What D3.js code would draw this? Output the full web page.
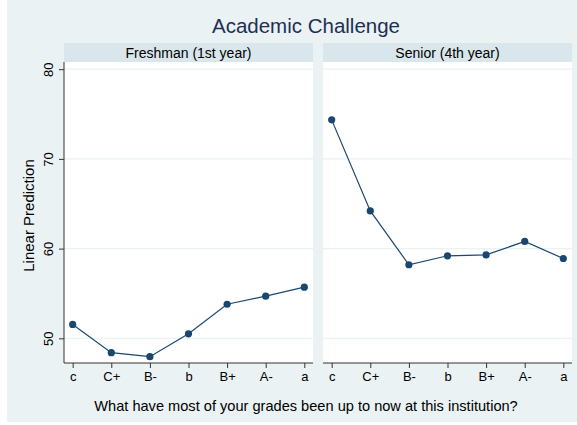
<!DOCTYPE html>
<html>
<head>
<meta charset="utf-8">
<script src="https://cdn.jsdelivr.net/npm/d3@7"></script>
<style>
  body { margin: 0; background: #fff; }
  svg { display: block; font-family: "Liberation Sans", Arial, Helvetica, sans-serif; }
</style>
</head>
<body>
<svg width="577" height="425"></svg>
<script>
const grades = ['c', 'C+', 'B-', 'b', 'B+', 'A-', 'a'];
const panels = ['Freshman (1st year)', 'Senior (4th year)'];
const freshman = [51.55, 48.4, 47.95, 50.5, 53.8, 54.7, 55.7];
const senior = [74.35, 64.2, 58.2, 59.2, 59.3, 60.8, 58.9];
const yTicks = [50, 60, 70, 80];

const series = [freshman, senior];
const navy = '#1a476f';

const svg = d3.select('svg');

// graph region
svg.append('rect')
  .attr('x', 7).attr('y', 0)
  .attr('width', 570).attr('height', 422)
  .attr('fill', '#eaf2f3');

const plotTop = 62, plotBottom = 363;
const panelX = [[64, 313], [323, 572]];

const y = d3.scaleLinear()
  .domain([47.25, 80.8])
  .range([plotBottom, plotTop]);

svg.append('text')
  .attr('x', 306).attr('y', 33)
  .attr('text-anchor', 'middle')
  .attr('font-size', 20.5)
  .attr('fill', '#1e2f55')
  .text('Academic Challenge');

panels.forEach((name, i) => {
  const [x0, x1] = panelX[i];
  const x = d3.scalePoint()
    .domain(grades)
    .range([x0, x1])
    .padding(0.225);

  const g = svg.append('g').attr('class', 'panel');

  // strip
  g.append('rect')
    .attr('x', x0).attr('y', 43)
    .attr('width', x1 - x0).attr('height', plotTop - 43)
    .attr('fill', '#d9e6eb');
  g.append('text')
    .attr('x', (x0 + x1) / 2).attr('y', 57.5)
    .attr('text-anchor', 'middle')
    .attr('font-size', 14)
    .attr('fill', '#000')
    .text(name);

  // plot area
  g.append('rect')
    .attr('x', x0).attr('y', plotTop)
    .attr('width', x1 - x0).attr('height', plotBottom - plotTop)
    .attr('fill', '#fff');

  g.append('g')
    .selectAll('line')
    .data(yTicks)
    .join('line')
      .attr('x1', x0).attr('x2', x1)
      .attr('y1', d => y(d)).attr('y2', d => y(d))
      .attr('stroke', '#eaf2f3')
      .attr('stroke-width', 1.2);

  const xAxis = g.append('g')
    .attr('transform', `translate(0,${plotBottom})`)
    .call(d3.axisBottom(x).tickSize(5).tickPadding(4));
  xAxis.select('.domain')
    .attr('d', `M${x0},0H${x1}`)
    .attr('stroke', '#333');
  xAxis.selectAll('.tick line').attr('stroke', '#333');
  xAxis.selectAll('text')
    .attr('font-size', 13)
    .attr('fill', '#000')
    .attr('font-family', null);

  if (i === 0) {
    const yAxis = g.append('g')
      .attr('transform', `translate(${x0},0)`)
      .call(d3.axisLeft(y).tickValues(yTicks).tickSize(5).tickPadding(4));
    yAxis.select('.domain')
      .attr('d', `M0,${plotTop}V${plotBottom}`)
      .attr('stroke', '#333');
    yAxis.selectAll('.tick line').attr('stroke', '#333');
    yAxis.selectAll('text')
      .attr('font-size', 13)
      .attr('fill', '#000')
      .attr('font-family', null)
      .attr('text-anchor', 'middle')
      .attr('x', 0).attr('y', 0).attr('dy', 0)
      .attr('transform', 'translate(-11,0) rotate(-90)');
  }

  const pts = series[i].map((v, k) => ({ g: grades[k], v }));

  g.append('path')
    .datum(pts)
    .attr('fill', 'none')
    .attr('stroke', navy)
    .attr('stroke-width', 1.2)
    .attr('d', d3.line().x(d => x(d.g)).y(d => y(d.v)));

  g.append('g')
    .selectAll('circle')
    .data(pts)
    .join('circle')
      .attr('cx', d => x(d.g))
      .attr('cy', d => y(d.v))
      .attr('r', 3.6)
      .attr('fill', navy);
});

svg.append('text')
  .attr('transform', `translate(34,${(plotTop + plotBottom) / 2 + 3}) rotate(-90)`)
  .attr('text-anchor', 'middle')
  .attr('font-size', 15)
  .attr('fill', '#000')
  .text('Linear Prediction');

svg.append('text')
  .attr('x', 306).attr('y', 411)
  .attr('text-anchor', 'middle')
  .attr('font-size', 14.6)
  .attr('fill', '#000')
  .text('What have most of your grades been up to now at this institution?');
</script>
</body>
</html>
